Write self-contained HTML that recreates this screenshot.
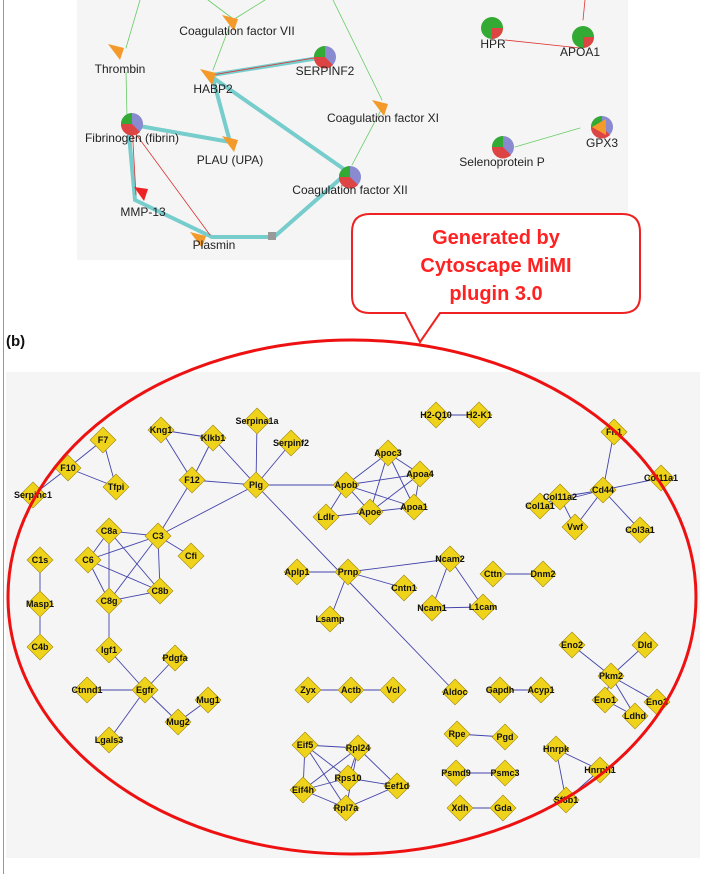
<!DOCTYPE html><html><head><meta charset="utf-8"><style>
body{margin:0;width:706px;height:874px;background:#fff;overflow:hidden;font-family:"Liberation Sans",sans-serif}
</style></head><body>
<svg width="706" height="874" viewBox="0 0 706 874" xmlns="http://www.w3.org/2000/svg" font-family="Liberation Sans, sans-serif">
<line x1="3.5" y1="0" x2="3.5" y2="874" stroke="#999" stroke-width="1"/>
<rect x="77" y="0" width="551" height="260" fill="#f5f5f5"/>
<rect x="6" y="372" width="694" height="486" fill="#f5f5f5"/>
<!-- top edges -->
<g fill="none" stroke-linecap="round">
<g stroke="#6c6" stroke-width="0.8">
<line x1="140" y1="0" x2="126" y2="48"/><line x1="208" y1="0" x2="232" y2="18"/><line x1="265" y1="0" x2="236" y2="18"/>
<line x1="333" y1="0" x2="382" y2="100"/><line x1="230" y1="25" x2="213" y2="70"/><line x1="126" y1="72" x2="127" y2="118"/>
<line x1="381" y1="110" x2="352" y2="165"/><line x1="515" y1="147" x2="580" y2="128"/>
</g>
<g stroke="#7cc" stroke-width="4">
<polyline points="325,57 212,75 230,142 128,124 135,200 212,237 274,237 348,172 212,77"/>
</g>
<g stroke="#d33" stroke-width="0.8"><line x1="320" y1="57" x2="212" y2="75"/><line x1="130" y1="126" x2="210" y2="235"/><line x1="132" y1="125" x2="136" y2="195"/><line x1="505" y1="40" x2="580" y2="48"/><line x1="585" y1="0" x2="583" y2="20"/></g>
</g>
<rect x="268" y="232" width="8" height="8" fill="#999"/>
<g fill="#f39a2a">
<path d="M222 15 l16 4 l-4 12 z"/><path d="M108 44 l16 4 l-4 12z"/><path d="M200 69 l16 4 l-4 12z"/><path d="M222 136 l16 4 l-4 12z"/><path d="M372 100 l16 4 l-4 12z"/><path d="M190 232 l16 4 l-4 12z"/>
</g>
<path d="M134 187 l14 2 l-4 12z" fill="#e22"/>
<g>
<circle cx="132" cy="124" r="11" fill="#8a8ad0"/><path d="M132 124 L121 124 A11 11 0 0 1 132 113z" fill="#3a3"/><path d="M132 124 L121 124 A11 11 0 0 0 140 132z" fill="#d44"/>
<circle cx="325" cy="57" r="11" fill="#8a8ad0"/><path d="M325 57 L314 57 A11 11 0 0 1 325 46z" fill="#3a3"/><path d="M325 57 L314 57 A11 11 0 0 0 333 65z" fill="#d44"/>
<circle cx="350" cy="177" r="11" fill="#8a8ad0"/><path d="M350 177 L339 177 A11 11 0 0 1 350 166z" fill="#3a3"/><path d="M350 177 L339 177 A11 11 0 0 0 358 185z" fill="#d44"/>
<circle cx="492" cy="28" r="11" fill="#3a3"/><path d="M492 28 L492 39 A11 11 0 0 0 503 28z" fill="#d44"/>
<circle cx="583" cy="37" r="11" fill="#3a3"/><path d="M583 37 L583 48 A11 11 0 0 0 594 37z" fill="#d44"/>
<circle cx="503" cy="147" r="11" fill="#8a8ad0"/><path d="M503 147 L492 147 A11 11 0 0 1 503 136z" fill="#3a3"/><path d="M503 147 L492 147 A11 11 0 0 0 511 155z" fill="#d44"/>
<circle cx="602" cy="127" r="11" fill="#8a8ad0"/><path d="M602 127 L591 127 A11 11 0 0 1 602 116z" fill="#3a3"/><path d="M602 127 L591 127 A11 11 0 0 0 610 135z" fill="#d44"/><path d="M592 127 l14 -8 v16z" fill="#f39a2a"/>
</g>
<g font-size="12" fill="#222" text-anchor="middle">
<text x="237" y="35">Coagulation factor VII</text><text x="120" y="73">Thrombin</text><text x="213" y="93">HABP2</text><text x="325" y="75">SERPINF2</text>
<text x="383" y="122">Coagulation factor XI</text><text x="132" y="142">Fibrinogen (fibrin)</text><text x="230" y="164">PLAU (UPA)</text>
<text x="350" y="194">Coagulation factor XII</text><text x="143" y="216">MMP-13</text><text x="214" y="249">Plasmin</text>
<text x="493" y="48">HPR</text><text x="580" y="56">APOA1</text><text x="502" y="166">Selenoprotein P</text><text x="602" y="147">GPX3</text>
</g>
<!-- callout -->
<path d="M370 214 H622 Q640 214 640 232 V296 Q640 313 622 313 H440 L420 342 L405 313 H370 Q352 313 352 296 V232 Q352 214 370 214z" fill="#fff" stroke="#e22" stroke-width="2"/>
<g font-size="20" font-weight="bold" fill="#f22" text-anchor="middle"><text x="496" y="244">Generated by</text><text x="496" y="272">Cytoscape MiMI</text><text x="496" y="300">plugin 3.0</text></g>
<text x="6" y="346" font-size="15" font-weight="bold" fill="#111">(b)</text>
<!-- bottom edges -->
<g stroke="#44a" stroke-width="0.9">
<line x1="103" y1="440" x2="68" y2="468"/><line x1="103" y1="440" x2="116" y2="487"/><line x1="68" y1="468" x2="116" y2="487"/><line x1="68" y1="468" x2="33" y2="495"/>
<line x1="161" y1="430" x2="213" y2="438"/><line x1="161" y1="430" x2="192" y2="480"/><line x1="213" y1="438" x2="192" y2="480"/><line x1="213" y1="438" x2="256" y2="485"/>
<line x1="257" y1="421" x2="256" y2="485"/><line x1="291" y1="443" x2="256" y2="485"/><line x1="192" y1="480" x2="256" y2="485"/><line x1="192" y1="480" x2="158" y2="536"/>
<line x1="256" y1="485" x2="158" y2="536"/><line x1="256" y1="485" x2="346" y2="485"/><line x1="256" y1="485" x2="455" y2="692"/>
<line x1="158" y1="536" x2="109" y2="531"/><line x1="158" y1="536" x2="88" y2="560"/><line x1="158" y1="536" x2="191" y2="556"/><line x1="158" y1="536" x2="160" y2="591"/><line x1="158" y1="536" x2="109" y2="601"/>
<line x1="109" y1="531" x2="88" y2="560"/><line x1="109" y1="531" x2="160" y2="591"/><line x1="109" y1="531" x2="109" y2="601"/><line x1="88" y1="560" x2="160" y2="591"/><line x1="88" y1="560" x2="109" y2="601"/><line x1="160" y1="591" x2="109" y2="601"/>
<line x1="109" y1="601" x2="109" y2="650"/><line x1="40" y1="560" x2="40" y2="647"/>
<line x1="109" y1="650" x2="145" y2="690"/><line x1="175" y1="658" x2="145" y2="690"/><line x1="87" y1="690" x2="145" y2="690"/><line x1="145" y1="690" x2="109" y2="740"/><line x1="145" y1="690" x2="178" y2="722"/><line x1="208" y1="700" x2="178" y2="722"/>
<line x1="436" y1="415" x2="479" y2="415"/>
<line x1="346" y1="485" x2="388" y2="453"/><line x1="346" y1="485" x2="420" y2="474"/><line x1="346" y1="485" x2="326" y2="517"/><line x1="346" y1="485" x2="370" y2="512"/><line x1="346" y1="485" x2="414" y2="507"/>
<line x1="388" y1="453" x2="420" y2="474"/><line x1="388" y1="453" x2="370" y2="512"/><line x1="388" y1="453" x2="414" y2="507"/><line x1="420" y1="474" x2="370" y2="512"/><line x1="420" y1="474" x2="414" y2="507"/><line x1="326" y1="517" x2="370" y2="512"/><line x1="370" y1="512" x2="414" y2="507"/>
<line x1="614" y1="432" x2="603" y2="490"/><line x1="603" y1="490" x2="560" y2="497"/><line x1="603" y1="490" x2="540" y2="506"/><line x1="603" y1="490" x2="661" y2="478"/><line x1="603" y1="490" x2="575" y2="527"/><line x1="603" y1="490" x2="640" y2="530"/><line x1="560" y1="497" x2="575" y2="527"/><line x1="540" y1="506" x2="560" y2="497"/>
<line x1="297" y1="572" x2="348" y2="572"/><line x1="348" y1="572" x2="404" y2="588"/><line x1="348" y1="572" x2="330" y2="619"/><line x1="348" y1="572" x2="450" y2="559"/><line x1="450" y1="559" x2="432" y2="608"/><line x1="450" y1="559" x2="483" y2="607"/><line x1="432" y1="608" x2="483" y2="607"/><line x1="493" y1="574" x2="543" y2="574"/>
<line x1="572" y1="645" x2="611" y2="676"/><line x1="645" y1="645" x2="611" y2="676"/><line x1="611" y1="676" x2="657" y2="702"/><line x1="611" y1="676" x2="605" y2="700"/><line x1="611" y1="676" x2="635" y2="716"/><line x1="605" y1="700" x2="635" y2="716"/>
<line x1="308" y1="690" x2="393" y2="690"/><line x1="500" y1="690" x2="541" y2="690"/>
<line x1="305" y1="745" x2="358" y2="748"/><line x1="305" y1="745" x2="348" y2="778"/><line x1="305" y1="745" x2="303" y2="790"/><line x1="305" y1="745" x2="346" y2="808"/><line x1="358" y1="748" x2="348" y2="778"/><line x1="358" y1="748" x2="397" y2="786"/><line x1="358" y1="748" x2="303" y2="790"/><line x1="348" y1="778" x2="397" y2="786"/><line x1="348" y1="778" x2="303" y2="790"/><line x1="303" y1="790" x2="346" y2="808"/><line x1="346" y1="808" x2="397" y2="786"/><line x1="358" y1="748" x2="346" y2="808"/>
<line x1="457" y1="734" x2="505" y2="737"/><line x1="456" y1="773" x2="505" y2="773"/><line x1="460" y1="808" x2="503" y2="808"/>
<line x1="556" y1="749" x2="600" y2="770"/><line x1="556" y1="749" x2="566" y2="800"/><line x1="600" y1="770" x2="566" y2="800"/>
</g>
<g id="n" fill="#efd21a" stroke="#a08a10" stroke-width="0.6">
<script>/* nodes drawn below */</script>
</g>
<g fill="#efd21a" stroke="#a08a10" stroke-width="0.6">
<path d="M103 427l13 13l-13 13l-13-13z"/><path d="M68 455l13 13l-13 13l-13-13z"/><path d="M116 474l13 13l-13 13l-13-13z"/><path d="M33 482l13 13l-13 13l-13-13z"/>
<path d="M161 417l13 13l-13 13l-13-13z"/><path d="M213 425l13 13l-13 13l-13-13z"/><path d="M257 408l13 13l-13 13l-13-13z"/><path d="M291 430l13 13l-13 13l-13-13z"/><path d="M192 467l13 13l-13 13l-13-13z"/><path d="M256 472l13 13l-13 13l-13-13z"/>
<path d="M109 518l13 13l-13 13l-13-13z"/><path d="M158 523l13 13l-13 13l-13-13z"/><path d="M88 547l13 13l-13 13l-13-13z"/><path d="M191 543l13 13l-13 13l-13-13z"/><path d="M160 578l13 13l-13 13l-13-13z"/><path d="M109 588l13 13l-13 13l-13-13z"/>
<path d="M40 547l13 13l-13 13l-13-13z"/><path d="M40 591l13 13l-13 13l-13-13z"/><path d="M40 634l13 13l-13 13l-13-13z"/>
<path d="M109 637l13 13l-13 13l-13-13z"/><path d="M175 645l13 13l-13 13l-13-13z"/><path d="M145 677l13 13l-13 13l-13-13z"/><path d="M87 677l13 13l-13 13l-13-13z"/><path d="M208 687l13 13l-13 13l-13-13z"/><path d="M178 709l13 13l-13 13l-13-13z"/><path d="M109 727l13 13l-13 13l-13-13z"/>
<path d="M436 402l13 13l-13 13l-13-13z"/><path d="M479 402l13 13l-13 13l-13-13z"/>
<path d="M388 440l13 13l-13 13l-13-13z"/><path d="M346 472l13 13l-13 13l-13-13z"/><path d="M420 461l13 13l-13 13l-13-13z"/><path d="M326 504l13 13l-13 13l-13-13z"/><path d="M370 499l13 13l-13 13l-13-13z"/><path d="M414 494l13 13l-13 13l-13-13z"/>
<path d="M614 419l13 13l-13 13l-13-13z"/><path d="M560 484l13 13l-13 13l-13-13z"/><path d="M603 477l13 13l-13 13l-13-13z"/><path d="M540 493l13 13l-13 13l-13-13z"/><path d="M661 465l13 13l-13 13l-13-13z"/><path d="M575 514l13 13l-13 13l-13-13z"/><path d="M640 517l13 13l-13 13l-13-13z"/>
<path d="M297 559l13 13l-13 13l-13-13z"/><path d="M348 559l13 13l-13 13l-13-13z"/><path d="M404 575l13 13l-13 13l-13-13z"/><path d="M330 606l13 13l-13 13l-13-13z"/><path d="M450 546l13 13l-13 13l-13-13z"/><path d="M432 595l13 13l-13 13l-13-13z"/><path d="M483 594l13 13l-13 13l-13-13z"/><path d="M493 561l13 13l-13 13l-13-13z"/><path d="M543 561l13 13l-13 13l-13-13z"/>
<path d="M572 632l13 13l-13 13l-13-13z"/><path d="M645 632l13 13l-13 13l-13-13z"/><path d="M611 663l13 13l-13 13l-13-13z"/><path d="M657 689l13 13l-13 13l-13-13z"/><path d="M605 687l13 13l-13 13l-13-13z"/><path d="M635 703l13 13l-13 13l-13-13z"/>
<path d="M308 677l13 13l-13 13l-13-13z"/><path d="M351 677l13 13l-13 13l-13-13z"/><path d="M393 677l13 13l-13 13l-13-13z"/><path d="M455 679l13 13l-13 13l-13-13z"/><path d="M500 677l13 13l-13 13l-13-13z"/><path d="M541 677l13 13l-13 13l-13-13z"/>
<path d="M305 732l13 13l-13 13l-13-13z"/><path d="M358 735l13 13l-13 13l-13-13z"/><path d="M348 765l13 13l-13 13l-13-13z"/><path d="M303 777l13 13l-13 13l-13-13z"/><path d="M346 795l13 13l-13 13l-13-13z"/><path d="M397 773l13 13l-13 13l-13-13z"/>
<path d="M457 721l13 13l-13 13l-13-13z"/><path d="M505 724l13 13l-13 13l-13-13z"/><path d="M456 760l13 13l-13 13l-13-13z"/><path d="M505 760l13 13l-13 13l-13-13z"/><path d="M460 795l13 13l-13 13l-13-13z"/><path d="M503 795l13 13l-13 13l-13-13z"/>
<path d="M556 736l13 13l-13 13l-13-13z"/><path d="M600 757l13 13l-13 13l-13-13z"/><path d="M566 787l13 13l-13 13l-13-13z"/>
</g>
<g font-size="9" font-weight="bold" fill="#111" text-anchor="middle" dominant-baseline="central">
<text x="103" y="440">F7</text><text x="68" y="468">F10</text><text x="116" y="487">Tfpi</text><text x="33" y="495">Serpinc1</text>
<text x="161" y="430">Kng1</text><text x="213" y="438">Klkb1</text><text x="257" y="421">Serpina1a</text><text x="291" y="443">Serpinf2</text><text x="192" y="480">F12</text><text x="256" y="485">Plg</text>
<text x="109" y="531">C8a</text><text x="158" y="536">C3</text><text x="88" y="560">C6</text><text x="191" y="556">Cfi</text><text x="160" y="591">C8b</text><text x="109" y="601">C8g</text>
<text x="40" y="560">C1s</text><text x="40" y="604">Masp1</text><text x="40" y="647">C4b</text>
<text x="109" y="650">Igf1</text><text x="175" y="658">Pdgfa</text><text x="145" y="690">Egfr</text><text x="87" y="690">Ctnnd1</text><text x="208" y="700">Mug1</text><text x="178" y="722">Mug2</text><text x="109" y="740">Lgals3</text>
<text x="436" y="415">H2-Q10</text><text x="479" y="415">H2-K1</text>
<text x="388" y="453">Apoc3</text><text x="346" y="485">Apob</text><text x="420" y="474">Apoa4</text><text x="326" y="517">Ldlr</text><text x="370" y="512">Apoe</text><text x="414" y="507">Apoa1</text>
<text x="614" y="432">Fn1</text><text x="560" y="497">Col11a2</text><text x="603" y="490">Cd44</text><text x="540" y="506">Col1a1</text><text x="661" y="478">Col11a1</text><text x="575" y="527">Vwf</text><text x="640" y="530">Col3a1</text>
<text x="297" y="572">Aplp1</text><text x="348" y="572">Prnp</text><text x="404" y="588">Cntn1</text><text x="330" y="619">Lsamp</text><text x="450" y="559">Ncam2</text><text x="432" y="608">Ncam1</text><text x="483" y="607">L1cam</text><text x="493" y="574">Cttn</text><text x="543" y="574">Dnm2</text>
<text x="572" y="645">Eno2</text><text x="645" y="645">Dld</text><text x="611" y="676">Pkm2</text><text x="657" y="702">Eno3</text><text x="605" y="700">Eno1</text><text x="635" y="716">Ldhd</text>
<text x="308" y="690">Zyx</text><text x="351" y="690">Actb</text><text x="393" y="690">Vcl</text><text x="455" y="692">Aldoc</text><text x="500" y="690">Gapdh</text><text x="541" y="690">Acyp1</text>
<text x="305" y="745">Eif5</text><text x="358" y="748">Rpl24</text><text x="348" y="778">Rps10</text><text x="303" y="790">Eif4h</text><text x="346" y="808">Rpl7a</text><text x="397" y="786">Eef1d</text>
<text x="457" y="734">Rpe</text><text x="505" y="737">Pgd</text><text x="456" y="773">Psmd9</text><text x="505" y="773">Psmc3</text><text x="460" y="808">Xdh</text><text x="503" y="808">Gda</text>
<text x="556" y="749">Hnrpk</text><text x="600" y="770">Hnrph1</text><text x="566" y="800">Sf3b1</text>
</g>
<ellipse cx="352" cy="597" rx="344" ry="257" fill="none" stroke="#e11" stroke-width="3"/>
</svg>
</body></html>
